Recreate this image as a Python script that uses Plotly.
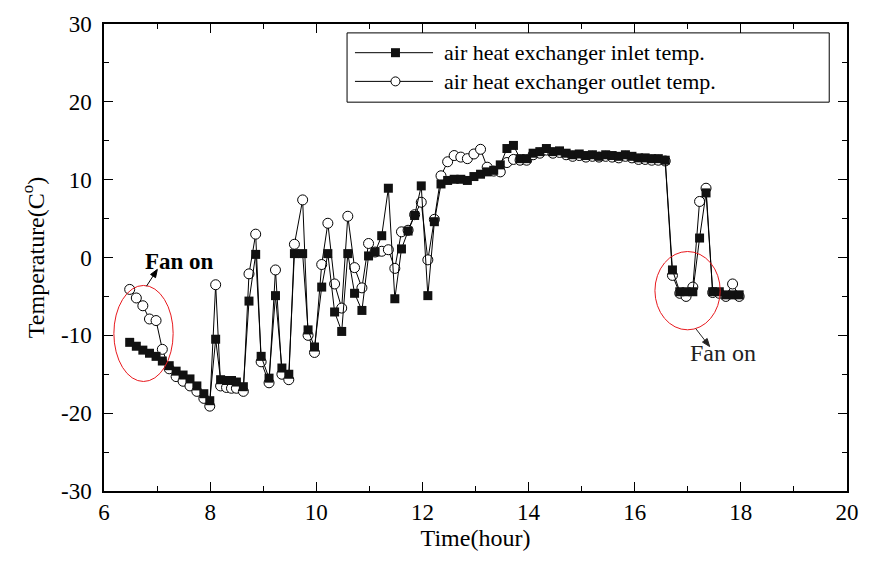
import math
import plotly.graph_objects as go

time_h = [6.484, 6.609, 6.732, 6.857, 6.981, 7.099, 7.229, 7.359, 7.490, 7.620, 7.750, 7.881, 7.993,
          8.104, 8.197, 8.309, 8.402, 8.495, 8.626,
          8.732, 8.858, 8.961, 9.110, 9.231, 9.352, 9.482, 9.588, 9.743, 9.845, 9.966,
          10.102, 10.218, 10.345, 10.479, 10.594, 10.721, 10.860, 10.985,
          11.108, 11.233, 11.358, 11.480, 11.605, 11.730, 11.853, 11.978,
          12.102, 12.225, 12.350, 12.475, 12.598, 12.723, 12.847, 12.970,
          13.095, 13.220, 13.343, 13.467, 13.592, 13.715, 13.840, 13.963,
          14.086, 14.212, 14.336, 14.458, 14.583, 14.708, 14.831, 14.955,
          15.080, 15.203, 15.328, 15.453, 15.575, 15.700, 15.825, 15.948,
          16.073, 16.197, 16.320, 16.445, 16.575,
          16.711, 16.849, 16.968, 17.095, 17.222, 17.344, 17.469, 17.594, 17.718, 17.844, 17.968]

inlet_temp = [-10.9, -11.4, -11.9, -12.3, -12.7, -13.3, -13.9, -14.6, -15.1, -15.6, -16.5, -17.5, -18.4,
              -10.5, -15.7, -15.8, -15.8, -16.0, -16.6,
              -5.6, 0.4, -12.7, -15.5, -4.9, -14.2, -15.0, 0.5, 0.5, -9.3, -11.5,
              -3.8, 0.5, -7.0, -9.5, 0.5, -4.6, -6.8, 0.2,
              0.7, 2.8, 8.9, -5.3, 1.1, 3.4, 5.4, 9.2,
              -4.9, 4.6, 9.45, 9.9, 10.05, 10.05, 9.9, 10.4,
              10.7, 11.0, 11.2, 11.9, 14.0, 14.4, 12.7, 12.7,
              13.4, 13.6, 14.0, 13.6, 13.7, 13.4, 13.2, 13.3,
              13.1, 13.2, 13.0, 13.2, 13.1, 13.0, 13.2, 13.0,
              12.8, 12.8, 12.7, 12.7, 12.5,
              -1.6, -4.4, -4.4, -4.4, 2.5, 8.3, -4.4, -4.4, -4.8, -4.8, -4.8]

outlet_temp = [-4.1, -5.2, -6.2, -7.9, -8.1, -11.8, -14.3, -15.3, -15.9, -16.5, -17.2, -18.1, -19.1,
               -3.5, -16.5, -16.7, -16.8, -16.8, -17.2,
               -2.1, 3.0, -13.4, -16.1, -1.6, -15.0, -15.7, 1.7, 7.4, -10.0, -12.2,
               -0.9, 4.4, -3.4, -6.5, 5.3, -1.3, -3.9, 1.8,
               0.7, 0.8, 1.0, -1.4, 3.3, 3.5, 5.5, 7.1,
               -0.3, 4.9, 10.5, 12.3, 13.1, 12.9, 12.7, 13.3,
               13.9, 11.6, 11.1, 11.0, 12.2, 12.6, 12.5, 12.5,
               13.2, 13.4, 13.8, 13.4, 13.5, 13.2, 13.0, 13.1,
               12.9, 13.0, 12.9, 13.0, 12.9, 12.8, 13.0, 12.8,
               12.6, 12.6, 12.5, 12.5, 12.4,
               -2.3, -4.6, -5.0, -3.8, 7.2, 8.9, -4.5, -4.6, -5.0, -3.4, -5.0]

legend_labels = ["air heat exchanger inlet temp.", "air heat exchanger outlet temp."]
x_ticks = [6, 8, 10, 12, 14, 16, 18, 20]
y_ticks = [-30, -20, -10, 0, 10, 20, 30]
y_tick_text = ["-30", "-20", "-10", "0", "10", "20", "30"]

FONT = "Liberation Serif, Times New Roman, serif"

# plot-area geometry (pixels) used only for decorations (legend, arrows)
L, R, T, B = 104, 856, 19, 491
X0, X1, Y0, Y1 = 6, 20, -30, 30


def px2data(px, py):
    return (X0 + (px - L) * (X1 - X0) / (R - L), Y1 - (py - T) * (Y1 - Y0) / (B - T))


def arrow_shapes(tail, tip, color):
    dx, dy = tip[0] - tail[0], tip[1] - tail[1]
    n = math.hypot(dx, dy)
    ux, uy = dx / n, dy / n
    nx, ny = -uy, ux
    bx, by = tip[0] - 8 * ux, tip[1] - 8 * uy
    a = px2data(*tail)
    b = px2data(bx, by)
    p1 = px2data(*tip)
    p2 = px2data(bx + 3 * nx, by + 3 * ny)
    p3 = px2data(bx - 3 * nx, by - 3 * ny)
    line = dict(type="line", xref="x", yref="y", x0=a[0], y0=a[1], x1=b[0], y1=b[1],
                line=dict(color=color, width=1))
    head = dict(type="path", xref="x", yref="y",
                path=f"M {p1[0]},{p1[1]} L {p2[0]},{p2[1]} L {p3[0]},{p3[1]} Z",
                fillcolor=color, line=dict(color=color, width=1))
    return [line, head]


fig = go.Figure()

fig.add_trace(go.Scatter(
    x=time_h, y=outlet_temp, mode="lines+markers", name=legend_labels[1],
    line=dict(color="black", width=1),
    marker=dict(symbol="circle", size=10, color="white", line=dict(color="black", width=1)),
    showlegend=False))
fig.add_trace(go.Scatter(
    x=time_h, y=inlet_temp, mode="lines+markers", name=legend_labels[0],
    line=dict(color="black", width=1),
    marker=dict(symbol="square", size=9, color="#111111", line=dict(width=0)),
    showlegend=False))

# manual legend: box, sample lines, sample markers, labels
row_px = [48, 77]
box0 = px2data(350, 98)
box1 = px2data(838, 28)
fig.add_shape(type="rect", xref="x", yref="y", x0=box0[0], x1=box1[0], y0=box0[1], y1=box1[1],
              line=dict(color="black", width=1), layer="above")
sym_x = []
sym_y = []
for ry in row_px:
    a = px2data(358, ry)
    b = px2data(437, ry)
    fig.add_shape(type="line", xref="x", yref="y", x0=a[0], x1=b[0], y0=a[1], y1=b[1],
                  line=dict(color="black", width=1), layer="below")
    m = px2data(399, ry)
    sym_x.append(m[0])
    sym_y.append(m[1])
fig.add_trace(go.Scatter(x=[sym_x[0]], y=[sym_y[0]], mode="markers",
                         marker=dict(symbol="square", size=9, color="#111111"),
                         showlegend=False, hoverinfo="skip"))
fig.add_trace(go.Scatter(x=[sym_x[1]], y=[sym_y[1]], mode="markers",
                         marker=dict(symbol="circle", size=9, color="white",
                                     line=dict(color="black", width=1)),
                         showlegend=False, hoverinfo="skip"))
lab_pos = px2data(447, (row_px[0] + row_px[1]) / 2)
fig.add_annotation(x=lab_pos[0], y=lab_pos[1], text="<br>".join(legend_labels),
                   showarrow=False, align="left", xanchor="left", yanchor="middle", borderpad=0,
                   font=dict(family=FONT, size=22, color="black"))

# red ellipses
fig.add_shape(type="circle", xref="x", yref="y", x0=6.186, x1=7.303, y0=-15.93, y1=-3.59,
              line=dict(color="#e8191e", width=1))
fig.add_shape(type="circle", xref="x", yref="y", x0=16.381, x1=17.611, y0=-9.29, y1=0.77,
              line=dict(color="#e8191e", width=1))

# "Fan on" labels and arrows
fig.add_annotation(x=7.42, y=-0.5, text="<b>Fan on</b>", showarrow=False,
                   font=dict(family=FONT, size=23, color="black"))
fig.add_annotation(x=17.66, y=-12.3, text="Fan on", showarrow=False,
                   font=dict(family=FONT, size=24, color="#222222"))
for shp in arrow_shapes((147, 284), (158, 267), "black") + arrow_shapes((703, 327), (717, 345), "#222222"):
    fig.add_shape(**shp)

axis_common = dict(showline=True, linecolor="black", linewidth=1.5, mirror="ticks",
                   ticks="inside", ticklen=9, tickwidth=1.2, tickcolor="black",
                   showgrid=False, zeroline=False,
                   tickfont=dict(family=FONT, size=23, color="black"))

fig.update_layout(
    width=871, height=566,
    margin=dict(l=L, r=871 - R, t=T, b=566 - B),
    paper_bgcolor="white", plot_bgcolor="white",
    xaxis=dict(range=[X0, X1], tickvals=x_ticks,
               minor=dict(dtick=1, ticks="inside", ticklen=5, tickcolor="black"),
               title=dict(text="Time(hour)", font=dict(family=FONT, size=24, color="black"),
                          standoff=2),
               **axis_common),
    yaxis=dict(range=[Y0, Y1], tickvals=y_ticks, ticktext=y_tick_text,
               minor=dict(dtick=5, ticks="inside", ticklen=5, tickcolor="black"),
               title=dict(text="Temperature(C<sup>o</sup>)",
                          font=dict(family=FONT, size=24, color="black"), standoff=10),
               ticklabelstandoff=6,
               **axis_common),
)

fig.write_html("out.html")
